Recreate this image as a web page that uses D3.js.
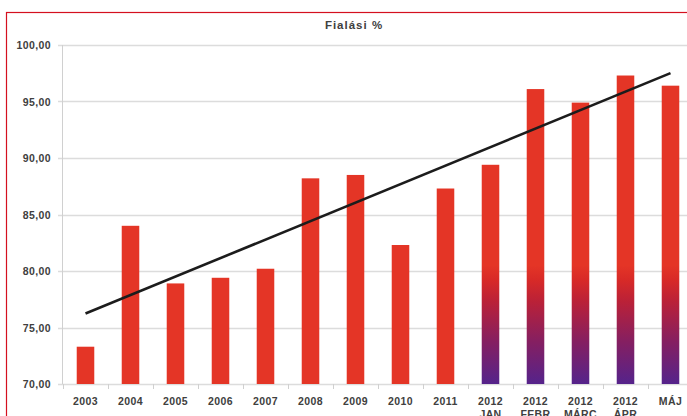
<!DOCTYPE html>
<html>
<head>
<meta charset="utf-8">
<script src="https://cdn.jsdelivr.net/npm/d3@7"></script>
<style>
  body { margin: 0; background: #fff; }
  svg { display: block; }
  text { font-family: "Liberation Sans", Arial, sans-serif; font-weight: bold; fill: #404040; }
</style>
</head>
<body>
<div id="vis"></div>
<script>
// data
const categories = ["2003", "2004", "2005", "2006", "2007", "2008", "2009", "2010", "2011",
  "2012\nJAN", "2012\nFEBR", "2012\nMÁRC", "2012\nÁPR", "MÁJ"];
const values = [73.3, 84.0, 78.9, 79.4, 80.2, 88.2, 88.5, 82.3, 87.3, 89.4, 96.1, 94.9, 97.3, 96.4];
// 2012 monthly bars get the red-to-purple fill
const monthly = ["2012\nJAN", "2012\nFEBR", "2012\nMÁRC", "2012\nÁPR", "MÁJ"];
const yTicks = [70, 75, 80, 85, 90, 95, 100];
const title = "Fialási %";

const width = 687;
const height = 416;
const margin = {top: 45, left: 63, bottom: 32};

const svg = d3.select("#vis")
  .append("svg")
  .attr("width", width)
  .attr("height", height);

// slide frame
svg.append("rect")
  .attr("x", 6.5)
  .attr("y", 12.5)
  .attr("width", width + 20)
  .attr("height", height + 20)
  .attr("fill", "none")
  .attr("stroke", "#d4101f")
  .attr("stroke-width", 1.2);

const x = d3.scaleBand()
  .domain(categories)
  .range([margin.left, margin.left + 45 * categories.length])
  .paddingInner(0.61)
  .paddingOuter(0.305);

const y = d3.scaleLinear()
  .domain([70, 100])
  .range([height - margin.bottom, margin.top]);

const defs = svg.append("defs");
const grad = defs.append("linearGradient")
  .attr("id", "monthGrad")
  .attr("gradientUnits", "userSpaceOnUse")
  .attr("x1", 0).attr("x2", 0)
  .attr("y1", y(70)).attr("y2", y(80.5));
grad.append("stop").attr("offset", 0).attr("stop-color", "#55238b");
grad.append("stop").attr("offset", 0.35).attr("stop-color", "#841f62");
grad.append("stop").attr("offset", 0.7).attr("stop-color", "#bb2137");
grad.append("stop").attr("offset", 0.88).attr("stop-color", "#d82a27");
grad.append("stop").attr("offset", 1).attr("stop-color", "#e43526");

// gridlines
svg.append("g")
  .selectAll("line")
  .data(yTicks)
  .join("line")
    .attr("x1", margin.left - 5)
    .attr("x2", width)
    .attr("y1", d => Math.round(y(d)) + 0.5)
    .attr("y2", d => Math.round(y(d)) + 0.5)
    .attr("stroke", "#dcdcdc")
    .attr("stroke-width", 1.5);

// y axis line
svg.append("line")
  .attr("x1", margin.left - 0.5)
  .attr("x2", margin.left - 0.5)
  .attr("y1", y(100))
  .attr("y2", y(70))
  .attr("stroke", "#d0d0d0");

// x tick marks between categories
svg.append("g")
  .selectAll("line")
  .data(categories)
  .join("line")
    .attr("x1", d => Math.round(x(d) - x.step() * x.paddingInner() / 2) + 0.5)
    .attr("x2", d => Math.round(x(d) - x.step() * x.paddingInner() / 2) + 0.5)
    .attr("y1", y(70))
    .attr("y2", y(70) + 5)
    .attr("stroke", "#d0d0d0");

// y labels
svg.append("g")
  .selectAll("text")
  .data(yTicks)
  .join("text")
    .attr("x", 51)
    .attr("y", d => y(d) + 4)
    .attr("text-anchor", "end")
    .style("font-size", "10.5px")
    .style("letter-spacing", "0.4px")
    .text(d => d3.format(".2f")(d).replace(".", ","));

// bars
svg.append("g")
  .selectAll("rect")
  .data(values)
  .join("rect")
    .attr("x", (d, i) => x(categories[i]))
    .attr("y", d => y(d))
    .attr("width", x.bandwidth())
    .attr("height", d => y(70) - y(d))
    .attr("fill", (d, i) => monthly.includes(categories[i]) ? "url(#monthGrad)" : "#e43526");

// linear trendline (least squares, like the spreadsheet's)
const n = values.length;
const xs = d3.range(1, n + 1);
const mx = d3.mean(xs);
const my = d3.mean(values);
const slope = d3.sum(xs, (v, i) => (v - mx) * (values[i] - my)) / d3.sum(xs, v => (v - mx) ** 2);
const icpt = my - slope * mx;
const trend = [1, n].map(k => [x(categories[k - 1]) + x.bandwidth() / 2, y(icpt + slope * k)]);

svg.append("path")
  .attr("d", d3.line()(trend))
  .attr("stroke", "#1c1c1c")
  .attr("stroke-width", 2.6)
  .attr("fill", "none");

// x labels (second line runs off the bottom edge, as in the source slide)
const xl = svg.append("g")
  .selectAll("text")
  .data(categories)
  .join("text")
    .attr("x", d => x(d) + x.bandwidth() / 2)
    .attr("y", 405)
    .attr("text-anchor", "middle")
    .style("font-size", "10.5px")
    .style("letter-spacing", "0.4px");
xl.selectAll("tspan")
  .data(d => d.split("\n"))
  .join("tspan")
    .attr("x", function() { return this.parentNode.getAttribute("x"); })
    .attr("dy", (d, i) => i ? 13 : 0)
    .text(d => d);

// title
svg.append("text")
  .attr("x", 354)
  .attr("y", 29)
  .attr("text-anchor", "middle")
  .style("font-size", "11.5px")
  .style("letter-spacing", "1px")
  .text(title);
</script>
</body>
</html>
